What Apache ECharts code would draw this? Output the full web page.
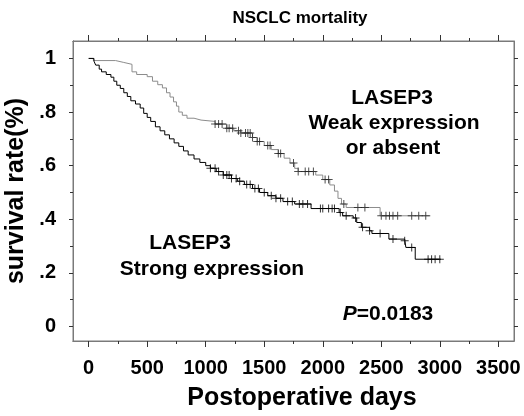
<!DOCTYPE html>
<html>
<head>
<meta charset="utf-8">
<script src="https://cdn.jsdelivr.net/npm/echarts@6/dist/echarts.min.js"></script>
<style>
    html, body {margin: 0; padding: 0; background: #fff;}
    #main {width: 524px; height: 416px;}
</style>
</head>
<body>
<div id="main"></div>
<script>

/*刻度*/
let xTicks = [0, 500, 1000, 1500, 2000, 2500, 3000, 3500];
let xMinorTicks = [250, 750, 1250, 1750, 2250, 2750, 3250];
let yTicks = [0, 0.2, 0.4, 0.6, 0.8, 1];
let yMinorTicks = [0.1, 0.3, 0.5, 0.7, 0.9];
let yTickLabels = ['0', '.2', '.4', '.6', '.8', '1'];

/*强表达组 (黑线)*/
let strongDays = [0, 45, 60, 90, 110, 150, 190, 215, 240, 270, 300, 330, 360, 400, 440, 470, 500, 530, 570, 610,
    650, 690, 730, 770, 810, 850, 900, 950, 1000, 1040, 1090, 1150, 1220, 1270, 1330, 1400, 1460, 1530, 1600, 1660,
    1760, 1900, 2140, 2170, 2260, 2290, 2330, 2400, 2420, 2565, 2700, 2710, 2790, 3010];
let strongSurv = [1.000, 0.990, 0.975, 0.960, 0.950, 0.940, 0.930, 0.915, 0.900, 0.888, 0.872, 0.858, 0.842, 0.830, 0.815, 0.795, 0.780, 0.765, 0.745, 0.730,
    0.715, 0.700, 0.685, 0.672, 0.655, 0.640, 0.625, 0.612, 0.600, 0.590, 0.578, 0.565, 0.552, 0.542, 0.530, 0.515, 0.500, 0.488, 0.478, 0.466,
    0.457, 0.440, 0.425, 0.413, 0.405, 0.388, 0.370, 0.357, 0.347, 0.326, 0.320, 0.295, 0.251, 0.251];
let strongCensor = [1040, 1080, 1110, 1150, 1180, 1200, 1220, 1260, 1290, 1350, 1380, 1420, 1450, 1500, 1560, 1600, 1640,
    1700, 1740, 1800, 1830, 1870, 1980, 2000, 2050, 2080, 2100, 2150, 2200, 2280, 2340, 2400, 2490, 2600, 2700, 2760,
    2900, 2930, 2960, 3000];

/*弱表达或缺失组 (灰线)*/
let weakDays = [0, 40, 230, 300, 370, 410, 500, 545, 590, 630, 665, 695, 725, 750, 770, 800, 840, 900, 960, 1080,
    1180, 1240, 1300, 1400, 1440, 1500, 1560, 1620, 1670, 1720, 1760, 1790, 1940, 2000, 2060, 2100, 2130, 2160, 2200,
    2490, 2920];
let weakSurv = [1.000, 0.992, 0.985, 0.978, 0.950, 0.940, 0.932, 0.915, 0.902, 0.890, 0.872, 0.856, 0.838, 0.822, 0.800, 0.788, 0.777, 0.770, 0.765, 0.755,
    0.740, 0.730, 0.722, 0.705, 0.690, 0.675, 0.660, 0.645, 0.628, 0.610, 0.590, 0.578, 0.565, 0.548, 0.528, 0.505, 0.478, 0.457, 0.444,
    0.413, 0.413];
let weakCensor = [1080, 1110, 1140, 1180, 1200, 1230, 1280, 1300, 1340, 1360, 1380, 1400, 1440, 1460, 1530, 1550, 1620,
    1640, 1750, 1790, 1850, 1880, 1920, 2020, 2050, 2180, 2300, 2360, 2500, 2540, 2570, 2600, 2640, 2760, 2820, 2880];

let xMin = -134, xMax = 3634;
let yMin = -0.054, yMax = 1.065;

let FONT = '"Liberation Sans", Arial, sans-serif';
let PLUS = 'path://M3.5,0H4.5V8H3.5Z M0,3.5H8V4.5H0Z';

/*阶梯曲线数据*/
let toLine = (days, surv) => days.map((d, i) => [d, surv[i]]);

/*删失点: 取该时间点的生存率*/
let toCensor = (days, surv, censor) => censor.map((c) => {
    let v = surv[0];
    for (let i = 0; i < days.length; i++) {
        if (days[i] <= c) {
            v = surv[i];
        }
    }
    return [c, v];
});

let myChart = echarts.init(document.getElementById('main'));

let tickColor = '#333';
let frameColor = '#7a7a7a';

function xAxisOf(position, ticks, len, label) {
    return {
        type: 'value',
        position: position,
        min: xMin,
        max: xMax,
        splitLine: {show: false},
        axisLine: {show: true, onZero: false, lineStyle: {color: frameColor, width: 1}},
        axisTick: {show: true, customValues: ticks, length: len, lineStyle: {color: tickColor, width: 1}},
        axisLabel: label ? {
            show: true,
            customValues: xTicks,
            margin: 17,
            color: '#000',
            fontFamily: FONT,
            fontWeight: 'bold',
            fontSize: 20,
            formatter: (v) => String(v)
        } : {show: false}
    };
}

function yAxisOf(position, ticks, len, label) {
    return {
        type: 'value',
        position: position,
        min: yMin,
        max: yMax,
        splitLine: {show: false},
        axisLine: {show: true, onZero: false, lineStyle: {color: frameColor, width: 1}},
        axisTick: {show: true, customValues: ticks, length: len, lineStyle: {color: tickColor, width: 1}},
        axisLabel: label ? {
            show: true,
            customValues: yTicks,
            margin: 17,
            color: '#000',
            fontFamily: FONT,
            fontWeight: 'bold',
            fontSize: 20,
            formatter: (v) => yTickLabels[yTicks.findIndex((t) => Math.abs(t - v) < 1e-6)]
        } : {show: false}
    };
}

let bottomAxis = xAxisOf('bottom', xTicks, 6, true);
bottomAxis.name = 'Postoperative days';
bottomAxis.nameLocation = 'middle';
bottomAxis.nameGap = 45;
bottomAxis.nameTextStyle = {
    color: '#000', fontFamily: FONT, fontWeight: 'bold', fontSize: 25, padding: [0, 0, 0, 17]
};

let leftAxis = yAxisOf('left', yTicks, 4, true);
leftAxis.name = 'survival rate(%)';
leftAxis.nameLocation = 'middle';
leftAxis.nameGap = 40;
leftAxis.nameTextStyle = {color: '#000', fontFamily: FONT, fontWeight: 'bold', fontSize: 25};

let textStyle = (txt) => ({text: txt, align: 'center', verticalAlign: 'middle', font: 'bold 21px ' + FONT, fill: '#000'});

let option = {
    backgroundColor: '#fff',
    animation: false,
    title: {
        text: 'NSCLC mortality',
        left: 295,
        top: 5,
        textAlign: 'center',
        textStyle: {color: '#000', fontFamily: FONT, fontWeight: 'bold', fontSize: 17}
    },
    grid: {
        left: 73, top: 41, right: 10, bottom: 75, outerBoundsMode: 'none',
        show: true, borderColor: frameColor, borderWidth: 1
    },
    xAxis: [
        bottomAxis,
        xAxisOf('bottom', xMinorTicks, 3, false),
        xAxisOf('top', xTicks, 6, false),
        xAxisOf('top', xMinorTicks, 3, false)
    ],
    yAxis: [
        leftAxis,
        yAxisOf('left', yMinorTicks, 3, false),
        yAxisOf('right', yTicks.concat(yMinorTicks), 4, false)
    ],
    graphic: [
        {type: 'text', x: 392, y: 98, style: textStyle('LASEP3')},
        {type: 'text', x: 394, y: 123, style: textStyle('Weak expression')},
        {type: 'text', x: 393, y: 148, style: textStyle('or absent')},
        {type: 'text', x: 190, y: 243, style: textStyle('LASEP3')},
        {type: 'text', x: 212, y: 269, style: textStyle('Strong expression')},
        {
            type: 'text', x: 388, y: 314,
            style: Object.assign(textStyle('{i|P}=0.0183'), {
                rich: {i: {fontStyle: 'italic', fontWeight: 'bold', fontSize: 21, fontFamily: FONT}}
            })
        }
    ],
    series: [
        {
            name: 'weak',
            type: 'line',
            step: 'end',
            showSymbol: false,
            lineStyle: {color: '#8c8c8c', width: 1},
            data: toLine(weakDays, weakSurv),
            z: 2
        },
        {
            name: 'strong',
            type: 'line',
            step: 'end',
            showSymbol: false,
            lineStyle: {color: '#000', width: 1},
            data: toLine(strongDays, strongSurv),
            z: 3
        },
        {
            name: 'weakCensor',
            type: 'scatter',
            symbol: PLUS,
            symbolSize: 8,
            itemStyle: {color: '#222'},
            data: toCensor(weakDays, weakSurv, weakCensor),
            z: 4
        },
        {
            name: 'strongCensor',
            type: 'scatter',
            symbol: PLUS,
            symbolSize: 8,
            itemStyle: {color: '#000'},
            data: toCensor(strongDays, strongSurv, strongCensor),
            z: 4
        }
    ]
};

myChart.setOption(option);

</script>
</body>
</html>
